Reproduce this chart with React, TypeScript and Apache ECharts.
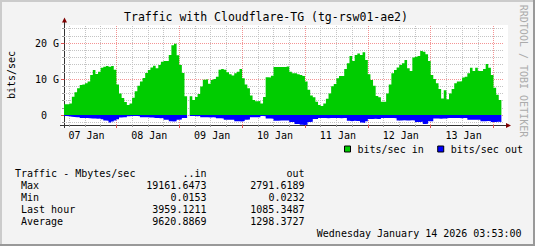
import React, { useEffect, useRef } from "react";
import * as echarts from "echarts";

// ---------- data ----------
const dayLabels = ["07 Jan", "08 Jan", "09 Jan", "10 Jan", "11 Jan", "12 Jan", "13 Jan", "14 Jan"];
const firstHour = 4; // first hourly bucket starts 07 Jan 04:00

// inbound traffic, Gbit/s, hourly
const inGbps: (number | null)[] = [
  3.0, 3.0, 3.2, 5.1, 6.3, 7.4, 8.3, 8.5, 8.8, 9.3, 11.1, 12.5, 11.4, 12.0, 13.1, 13.4, 13.6, 13.4, 13.6, 12.6,
  8.5, 6.0, 4.7, 3.6, 2.8, 3.2, 4.8, 6.6, 8.1, 9.3, 10.3, 11.7, 12.5, 13.2, 13.7, 13.0, 13.9, 14.8, 15.0, 15.0, 16.7, 19.4, 19.8, 16.6,
  13.9, 11.7, 5.2, 0, 5.2, 4.2, 5.0, 5.8, 7.9, 9.8, 9.9, 8.7, 9.7, 10.0, 10.6, 12.6, 12.8, 12.6, 11.9, 11.3, 11.0, 11.6, 12.0, 12.8,
  10.2, 8.5, 7.4, 5.4, 4.2, 3.8, 3.9, 3.2, 5.0, 10.5, 10.4, 10.9, 13.3, 13.3, 13.3, 13.3, 13.3, 13.5, 12.0, 11.6, 11.6, 11.3, 11.1, 10.8,
  9.3, 7.0, 5.4, 4.9, 3.7, 2.8, 2.5, 3.2, 4.5, 6.0, 8.0, 8.6, 10.2, 10.8, 10.8, 12.8, 14.4, 16.4, 15.0, 16.7, 17.1, 16.7, 17.4, 15.3,
  11.3, 9.7, 8.1, 5.3, 4.9, 3.7, 3.7, 6.0, 8.5, 11.6, 12.5, 13.2, 13.9, 14.4, 15.3, 13.0, 12.2, 16.0, 16.2, 16.4, 17.8, 17.6, 16.9, 15.0,
  11.1, 10.0, 8.8, 7.2, 4.6, 6.9, 4.4, 6.0, 7.2, 8.8, 9.3, 9.4, 10.4, 10.6, 11.6, 13.1, 12.2, 13.1, 12.2, 12.2, 12.8, 14.2, 13.1, 11.1, 7.6, 5.6, 4.2, null,
];

// outbound traffic, Gbit/s, hourly (drawn below zero)
const outGbps: (number | null)[] = [
  0.3, 0.35, 0.5, 0.55, 0.6, 0.6, 0.8, 0.85, 0.85, 0.9, 1.0, 1.0, 1.05, 1.0, 1.2, 1.55, 1.6, 2.1, 1.8, 1.5,
  1.2, 0.7, 0.65, 0.6, 0.35, 0.3, 0.3, 0.3, 0.35, 0.6, 0.65, 0.65, 0.7, 0.7, 0.85, 0.85, 0.9, 0.85, 1.3, 1.3, 1.75, 1.8, 1.75, 1.3,
  1.25, 0.85, 0.8, 0, 0.3, 0.3, 0.35, 0.3, 0.6, 0.65, 0.65, 0.7, 0.65, 0.7, 0.9, 0.9, 0.95, 1.3, 1.3, 1.35, 1.3, 1.75, 1.75, 1.8,
  1.7, 1.3, 1.25, 0.65, 0.65, 0.6, 0.65, 0.3, 0.35, 1.0, 1.0, 1.05, 1.6, 1.6, 1.55, 1.5, 1.5, 1.5, 1.95, 1.95, 2.5, 2.5, 2.7, 2.75,
  2.7, 1.95, 1.9, 1.1, 1.1, 0.85, 0.8, 0.85, 0.9, 0.85, 0.85, 0.8, 0.85, 0.9, 0.85, 0.85, 1.6, 1.75, 1.6, 1.7, 1.7, 2.1, 2.2, 1.75,
  1.1, 1.1, 1.05, 1.1, 1.1, 0.85, 0.85, 0.8, 0.85, 0.85, 0.9, 1.5, 1.5, 1.45, 1.5, 1.5, 1.45, 1.5, 1.95, 1.95, 1.9, 2.5, 2.45, 1.75,
  1.75, 1.0, 1.0, 1.05, 1.0, 1.0, 0.85, 0.85, 0.8, 0.85, 0.85, 0.9, 0.85, 0.85, 1.3, 1.3, 1.35, 1.3, 1.3, 1.75, 1.75, 1.7, 1.75, 1.95, 1.95, 1.9, 1.95, null,
];

const yMinorTicks = [-2, 2, 4, 6, 8, 12, 14, 16, 18, 22, 24];
const yMajorTicks = [0, 10, 20];
const yMajorLabels = ["0", "10 G", "20 G"];
const legendNames = ["bits/sec in", "bits/sec out"];
const statHeader = ["Traffic - Mbytes/sec", "..in", "out"];
const statRows = ["Max", "Min", "Last hour", "Average"];
const statIn = ["19161.6473", "0.0153", "3959.1211", "9620.8869"];
const statOut = ["2791.6189", "0.0232", "1085.3487", "1298.3727"];
const titleText = "Traffic with Cloudflare-TG (tg-rsw01-ae2)";
const yName = "bits/sec";
const stampText = "Wednesday January 14 2026 03:53:00";
const watermark = "RRDTOOL / TOBI OETIKER";

// ---------- styles ----------
const MONO = '"DejaVu Sans Mono", monospace';
const IN_COLOR = "#00CC00";
const OUT_COLOR = "#0000FF";
const AXIS_COLOR = "#333333";
const MINOR_GRID = "#c4c4c4";
const MAJOR_GRID = "rgba(235,60,60,0.55)";
const ARROW = "#7F0000";

// boundary categories: one per hour boundary (169 = 168 buckets + closing edge)
const boundaries = [...inGbps, null].map((_, j) => {
  const t = firstHour + j;
  return `${dayLabels[Math.floor(t / 24)]} ${String(t % 24).padStart(2, "0")}:00`;
});
const hourOf = (j: number) => (firstHour + j) % 24;
const isMinor = (j: number) => hourOf(j) % 6 === 0 && hourOf(j) !== 0;
const isMajor = (j: number) => hourOf(j) === 0;
const isNoon = (j: number) => hourOf(j) === 12;
const minorIdx = boundaries.map((_, j) => j).filter(isMinor);
const majorIdx = boundaries.map((_, j) => j).filter(isMajor);

const Y_MIN = -25 / 9;
const Y_MAX = 25;

function txt(text: string, x: number, y: number, opts: any = {}) {
  return {
    type: "text",
    x,
    y,
    rotation: opts.rotation || 0,
    silent: true,
    z: 10,
    style: {
      text,
      fill: opts.fill || "#000",
      font: `${opts.size || 10}px ${MONO}`,
      align: opts.align || "left",
      verticalAlign: "middle",
    },
  };
}

function buildOption(): any {
  const graphics: any[] = [
    { type: "rect", z: -10, silent: true, shape: { x: 61, y: 25, width: 447, height: 103 }, style: { fill: "#ffffff" } },
    { type: "rect", silent: true, shape: { x: 0, y: 0, width: 535, height: 2 }, style: { fill: "#CBCBCB" } },
    { type: "rect", silent: true, shape: { x: 0, y: 0, width: 2, height: 246 }, style: { fill: "#CBCBCB" } },
    { type: "rect", silent: true, shape: { x: 0, y: 244, width: 535, height: 2 }, style: { fill: "#999999" } },
    { type: "rect", silent: true, shape: { x: 533, y: 0, width: 2, height: 246 }, style: { fill: "#999999" } },
    { type: "line", silent: true, shape: { x1: 64.5, y1: 25, x2: 64.5, y2: 21 }, style: { stroke: AXIS_COLOR, lineWidth: 1 } },
    { type: "line", silent: true, shape: { x1: 64.5, y1: 125, x2: 64.5, y2: 128 }, style: { stroke: AXIS_COLOR, lineWidth: 1 } },
    { type: "line", silent: true, shape: { x1: 60, y1: 125.5, x2: 64, y2: 125.5 }, style: { stroke: AXIS_COLOR, lineWidth: 1 } },
    { type: "line", silent: true, shape: { x1: 504, y1: 125.5, x2: 507, y2: 125.5 }, style: { stroke: AXIS_COLOR, lineWidth: 1 } },
    { type: "polygon", silent: true, shape: { points: [[62, 22.5], [67, 22.5], [64.5, 17.5]] }, style: { fill: ARROW } },
    { type: "polygon", silent: true, shape: { points: [[506, 123], [506, 128], [511, 125.5]] }, style: { fill: ARROW } },
    txt(titleText, 266, 16.7, { size: 11.5, align: "center" }),
    txt(yName, 11, 75, { align: "center", rotation: Math.PI / 2 }),
    txt(watermark, 523.5, 71, { align: "center", rotation: -Math.PI / 2, fill: "#ababab" }),
    txt(statHeader[0], 15, 173.3),
    txt(statHeader[1], 206.5, 173.3, { align: "right" }),
    txt(statHeader[2], 304.5, 173.3, { align: "right" }),
    txt(stampText, 521.5, 233.7, { align: "right" }),
  ];
  statRows.forEach((r, k) => {
    const y = 185.3 + k * 12;
    graphics.push(txt(r, 21, y));
    graphics.push(txt(statIn[k], 206.5, y, { align: "right" }));
    graphics.push(txt(statOut[k], 304.5, y, { align: "right" }));
  });

  const baseX = {
    type: "category",
    data: boundaries,
    boundaryGap: false,
    position: "bottom",
    offset: 0,
    gridIndex: 0,
    z: 0,
  };

  const minorStyle = { color: MINOR_GRID, type: [1, 1], width: 1 };
  const majorStyle = { color: MAJOR_GRID, type: [1, 1], width: 1 };
  const markData = [
    ...yMinorTicks.map((v) => ({ yAxis: v, lineStyle: minorStyle })),
    ...minorIdx.map((j) => ({ xAxis: j, lineStyle: minorStyle })),
    ...yMajorTicks.map((v) => ({ yAxis: v, lineStyle: majorStyle })),
    ...majorIdx.map((j) => ({ xAxis: j, lineStyle: majorStyle })),
  ];

  const areaSeries = (name: string, values: (number | null)[], color: string) => ({
    name,
    type: "line",
    data: [...values, null],
    xAxisIndex: 0,
    yAxisIndex: 0,
    step: "end",
    symbol: "none",
    showSymbol: false,
    connectNulls: false,
    z: 20,
    silent: true,
    color,
    itemStyle: { color },
    lineStyle: { width: 0, color },
    areaStyle: { color, opacity: 1 },
  });

  return {
    animation: false,
    backgroundColor: "#F3F3F3",
    textStyle: { fontFamily: MONO },
    grid: { left: 64, top: 25, width: 440, height: 100, containLabel: false },
    legend: {
      data: legendNames,
      left: 344,
      top: 144,
      padding: 0,
      itemWidth: 6,
      itemHeight: 6,
      itemGap: 13.5,
      icon: "rect",
      selectedMode: false,
      itemStyle: { borderColor: "#000", borderWidth: 1 },
      textStyle: { fontFamily: MONO, fontSize: 10, color: "#000", padding: [0, 0, 0, 2] },
    },
    graphic: { elements: graphics },
    xAxis: [
      {
        ...baseX,
        axisLine: { show: true, onZero: false, lineStyle: { color: AXIS_COLOR, width: 1 } },
        axisTick: { show: true, interval: (j: number) => isMinor(j), length: 2, lineStyle: { color: "#999" } },
        axisLabel: { show: false },
        splitLine: { show: false },
      },
      {
        ...baseX,
        axisLine: { show: false, onZero: false },
        axisTick: { show: true, interval: (j: number) => isMajor(j), length: 3, lineStyle: { color: "#e05050" } },
        axisLabel: {
          show: true,
          interval: (j: number) => isNoon(j),
          formatter: (v: string) => v.slice(0, 6),
          fontFamily: MONO,
          fontSize: 10,
          color: "#000",
          margin: 5,
          padding: [0, 0, 0, 3],
        },
        splitLine: { show: false },
      },
    ],
    yAxis: [
      {
        type: "value",
        min: Y_MIN,
        max: Y_MAX,
        position: "left",
        offset: 0,
        z: 0,
        axisLine: { show: true, onZero: false, lineStyle: { color: AXIS_COLOR, width: 1 } },
        axisTick: { show: true, customValues: yMinorTicks, length: 2, lineStyle: { color: "#999" } },
        axisLabel: { show: false },
        splitLine: { show: false },
      },
      {
        type: "value",
        min: Y_MIN,
        max: Y_MAX,
        position: "left",
        offset: 0,
        z: 0,
        axisLine: { show: false, onZero: false },
        axisTick: { show: true, customValues: yMajorTicks, length: 3, lineStyle: { color: "#e05050" } },
        axisLabel: {
          show: true,
          customValues: yMajorTicks,
          formatter: (v: number) => {
            const k = yMajorTicks.indexOf(v);
            if (k < 0) return "";
            return v === 0 ? `{z|${yMajorLabels[k]}}` : yMajorLabels[k];
          },
          rich: { z: { fontFamily: MONO, fontSize: 10, color: "#000", padding: [0, 12, 0, 0] } },
          fontFamily: MONO,
          fontSize: 10,
          color: "#000",
          margin: 5,
        },
        splitLine: { show: false },
      },
    ],
    series: [
      {
        name: "grid",
        type: "line",
        data: [],
        z: 1,
        silent: true,
        markLine: { silent: true, z: 1, symbol: ["none", "none"], label: { show: false }, animation: false, data: markData },
      },
      areaSeries(legendNames[0], inGbps, IN_COLOR),
      areaSeries(legendNames[1], outGbps.map((v) => (v == null ? null : -v)), OUT_COLOR),
    ],
  };
}

export default function App() {
  const ref = useRef<HTMLDivElement>(null);
  useEffect(() => {
    if (!ref.current) return;
    const chart = echarts.init(ref.current, null, { renderer: "svg" });
    chart.setOption(buildOption());
    return () => chart.dispose();
  }, []);
  return <div ref={ref} style={{ position: "absolute", left: 0, top: 0, width: 535, height: 246 }} />;
}
